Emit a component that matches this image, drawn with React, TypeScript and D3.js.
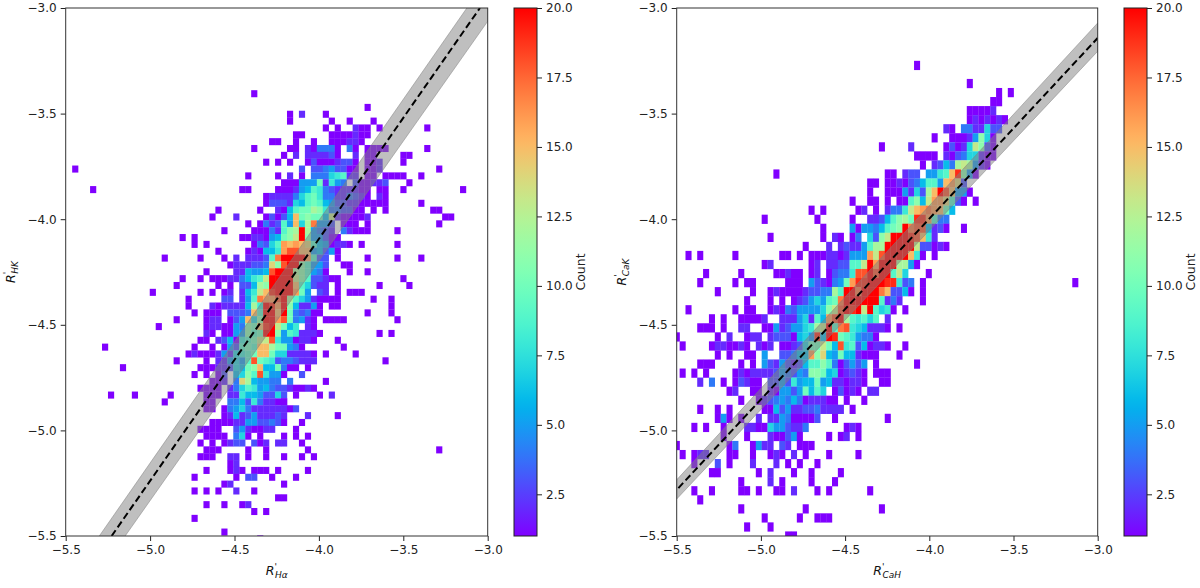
import React, { useEffect, useRef } from 'react';
import * as d3 from 'd3';

// 2d histogram rows, "row col:counts col:counts", counts are base 36 (k = 20), row 0 is at the top
const hkRows = [
  "12 31:1", "14 50:1", "15 37:1 39:2 43:1", "16 37:1 44:1 47:1 51:1", "17 43:1 45:1 48:211 52:1 60:1",
  "18 38:11 44:1111211", "19 34:11 38:1 41:1 44:111 47:221", "20 31:1 37:11 40:21 42:444 45:1 47:41 50:1111 60:1",
  "21 36:1 38:2 40:222 43:231 48:2 50:11 56:11", "22 33:1 35:1 37:1 40:13111 45:233 48:1 50:112 56:1",
  "23 1:1 39:3 41:33453311 50:112 62:1", "24 30:1 35:1 37:2 39:1 41:44478922 50:11 53:1111 59:1",
  "25 36:111 39:555a2854 48:3 49:1 50:1223 57:1", "26 4:1 29:11 35:111 38:2569843 45:2222 49:1 50:1 52:11 56:1 66:1",
  "27 33:12 35:2 36:22 38:479a8442 46:2 47:432 50:1 52:21", "28 33:1 34:3332 38:769a9653 46:3 47:22 49:1 50:1111 59:1",
  "29 25:1 32:1 35:21 37:69aacb8443 47:3 48:11 51:1 53:1 61:11", "30 24:1 28:2 33:1 34:3136 38:fabaa6d21 47:1 48:112 63:11",
  "31 30:1 32:1 33:4239 37:5f7ch553 46:1 47:11 50:1 62:1", "32 26:1 31:111 34:4 35:29bckc5432 46:42 48:111 55:1",
  "33 19:1 21:1 29:11 31:22 33:156abdkb553 44:11", "34 21:1 23:1 31:143 34:79gfgfe9651 45:221 49:1 55:1",
  "35 25:1 30:1 31:216 34:68giiff5635 45:1", "36 16:1 22:1 26:1 28:2 30:2223 34:9hkkkkg933 45:1 50:1 55:1 59:1",
  "37 27:1222 31:33 33:4ebikkb95 42:53 46:11", "38 23:1 28:22655 33:6ikkkcb95 42:41 47:1 50:1",
  "39 19:1 22:1 24:11 26:122 29:468 32:9dkkkkdb9 41:332 44:11 56:1", "40 18:1 25:1 27:1 29:336 32:cbkkkkf97 41:322 45:1 52:1 57:1",
  "41 14:1 22:1 24:1 26:12 29:268 32:dfjkkkga5 42:32 45:1 47:111", "42 20:1 26:33 29:259hggikc975 41:21111 51:1 54:1",
  "43 20:1 24:21 26:222 29:26c8kjgkb6 39:22 41:51 44:11 54:1", "44 21:1 23:111 27:333 30:4f9kkfka434 41:11 50:1 54:1",
  "45 18:1 23:122 27:135f7bkkgia452 41:1 43:1111 55:1", "46 15:1 23:122 26:11 28:54bafjkda68 40:21",
  "47 23:21 26:11 28:55b9akkb59822 41:21 52:1 54:1", "48 22:11 25:2361 29:89addi8 36:55122 41:1 45:1",
  "49 6:1 21:1 24:1 26:1539 30:a9ffcaa541 46:1", "50 20:12111 25:2527 29:89affa77 37:2222 41:1 43:1 48:1",
  "51 18:1 23:1 25:2257 29:59ia98344 38:3222 53:1", "52 9:1 22:111 25:22 27:3 28:76abf66a411 40:1",
  "53 21:1 23:1 25:13 28:67b9i8551 39:3", "54 24:112 28:4ec65544 37:4 43:1", "55 22:1111 27:2479 31:856433 37:2112 41:1",
  "56 7:1 11:1 17:1 23:111 27:22866 32:53373 38:1 42:1 44:2", "57 16:1 23:11 27:44638 32:42211 36:1",
  "58 23:11 26:145742 32:2 33:2222 37:13", "59 26:126 29:2352 33:2232 40:2 45:1", "60 24:1111 28:22553 33:3431 39:1",
  "61 22:1111 28:352112 34:2 38:1", "62 23:111 26:1 28:471 32:1 36:1 38:1 40:1", "63 22:1 24:1 26:1233 31:312 35:22 39:1",
  "64 23:111 30:1 33:1 40:1 62:1", "65 22:111 27:22 30:1 33:1 36:1 39:1 41:1", "66 27:12", "67 23:1 27:121 31:111 35:1 40:1",
  "68 21:1 28:1 30:33 34:1 38:1", "69 26:12 36:1", "70 21:1 23:1 25:1 28:2 31:1", "71 35:11", "72 23:1 26:1 29:12", "73 31:1 33:1",
  "74 21:1", "76 26:1", "77 32:1",
];

const cakRows = [
  "6 41:1", "8 50:1", "9 55:1 57:1", "10 54:11", "11 50:11112", "12 50:1212121", "13 46:21 49:44 51:22 53:733",
  "14 44:1 47:11 49:12 51:5b71", "15 35:1 40:2 46:131 49:27db31", "16 41:1111 46:213477 52:211",
  "17 42:1 44:2364cdc521", "18 17:1 36:11 39:233 43:5589fjb51", "19 33:11 36:11 38:21346 43:995fge3",
  "20 33:1 36:11 38:1527 42:3cfkif551", "21 30:1 33:11 36:1 38:11 40:9b6dgge931 51:1", "22 23:1 25:1 31:12 34:1 36:2448dfghgfa6",
  "23 15:1 24:1 30:1 33:22369bcajjg944", "24 25:1 30:51 32:5546 36:9abkhii6 44:231 49:1", "25 16:1 25:1 27:21 30:14 33:73bdkkkjif82",
  "26 22:1 26:2 28:2322 32:59cckkkkkd33 44:121", "27 2:1 4:1 10:1 18:11 21:1 23:111 26:221255 32:5gdikkkkf81 44:1",
  "28 15:12 23:12 26:2233 30:99dkgkkkcc51", "29 5:1 11:1 17:112 20:11 23:12 26:134 29:48iikikk9d7 43:1",
  "30 4:1 10:1 12:11 19:111 23:5321 27:45agjjkkkjj8 39:34 42:1 68:1", "31 7:1 13:1 16:121111 22:23344 27:c9kkhkkkhf3 38:361 42:1",
  "32 12:1 16:1 18:1 20:1235 24:759ahkkkk 33:kk9 36:2 37:42 42:1", "33 2:1 10:1 12:11 16:12143 21:555 24:57bdikjkd 33:k978 37:1 39:1",
  "34 6:1 8:1 11:1111 15:2 18:222 21:572 24:96gikc989 33:79 36:2", "35 4:111 8:1 11:22 15:11 17:52355 22:78cdk9hi8762 34:221 38:1",
  "36 0:1 7:1 9:2 12:122 16:2333 20:1675 24:j6kja985 32:441", "37 1:1 6:122112 12:1 14:212 18:11 20:237 23:aada6i893 32:612 35:21 39:1",
  "38 7:1 9:1 12:11 15:5 18:33466 23:gbe65a66 31:2111 38:1", "39 4:111 11:1 13:1 15:532 18:532369 24:9b941353 32:5 34:1 41:1",
  "40 1:1 3:1 5:1 10:121 13:2222 17:35435 22:4bba6712 30:321 34:111", "41 4:2 6:4 8:1 10:132 13:11 16:33538 21:566a562 28:21 30:221 35:11",
  "42 9:12 13:11 16:215535 22:a697 27:1312 31:1 33:22", "43 11:1 14:1234 18:54 20:641222 26:11 29:1 32:1",
  "44 4:1 7:1 9:1 15:116 18:35 20:223342 26:222 30:1", "45 7:15 9:1 11:1 14:2 16:22 18:54 20:1111 24:3 27:1 36:1",
  "46 3:1 5:1 8:1 12:22 14:11 16:75532 21:24 29:121", "47 8:1 12:1 16:211 19:351 26:1 28:12 31:1",
  "48 0:1 9:14 13:15 15:22 18:32 21:111", "49 1:1 3:122 9:11 13:1 16:121 20:2 22:1 26:1 31:1", "50 3:1 7:3 9:1 13:2 17:2 19:1 21:1 24:1",
  "51 6:11 14:1 16:2 20:1 23:1 28:1", "52 11:1 16:2 18:1 23:1 27:1", "53 3:1 6:1 11:11 14:1 17:11 20:2 24:1 26:1 33:1", "54 4:1",
  "55 11:1 22:1 35:1", "56 15:1 21:1 24:111", "57 12:1 16:1", "58 19:11",
];

const axisTicks = [-5.5, -5, -4.5, -4, -3.5, -3];
const colorbarTicks = [2.5, 5, 7.5, 10, 12.5, 15, 17.5, 20];

// fit line and its band
const hkLineX = [-5.228, -3.046];
const hkLineY = [-5.5, -3];
const hkBandX = [-5.301, -3];
const hkBandLow = [-5.674, -3.063];
const hkBandHigh = [-5.5, -2.858];

const cakLineX = [-5.49, -3];
const cakLineY = [-5.273, -3.142];
const cakBandX = [-5.5, -3];
const cakBandLow = [-5.325, -3.205];
const cakBandHigh = [-5.234, -3.071];

const FONT = '"DejaVu Sans", sans-serif';

// matplotlib's "rainbow"
const rainbow = (t: number) => {
    const r = Math.min(1, Math.abs(2 * t - 0.5));
    const g = Math.sin(Math.PI * t);
    const b = Math.cos((Math.PI * t) / 2);
    return d3.rgb(r * 255, g * 255, b * 255).formatHex();
};
const color = d3.scaleSequential(rainbow).domain([1, 20]);

const parseBins = (rows: string[]) =>
    rows.flatMap(line => {
        const [row, ...runs] = line.split(" ");
        return runs.flatMap(run => {
            const [col, counts] = run.split(":");
            return [...counts].map((ch, i) => ({
                row: +row,
                col: +col + i,
                count: parseInt(ch, 36),
            }));
        });
    });

interface PanelConfig {
    id: string;
    left: number;
    right: number;
    barLeft: number;
    rows: string[];
    binX0: number;
    binY0: number;
    dx: number;
    dy: number;
    lineX: number[];
    lineY: number[];
    bandX: number[];
    bandLow: number[];
    bandHigh: number[];
    xSub: string;
    ySub: string;
    yLabelX: number;
}

const TOP = 8;
const BOTTOM = 536;

const label = (
    g: d3.Selection<SVGGElement, unknown, null, undefined>,
    sub: string,
    transform: string
) => {
    const t = g.append("text")
        .attr("transform", transform)
        .attr("text-anchor", "middle")
        .attr("font-family", FONT)
        .attr("font-size", 12.5)
        .attr("font-style", "italic")
        .attr("fill", "#111");
    t.append("tspan").text("R");
    t.append("tspan").attr("dy", -5).attr("dx", 0).attr("font-size", 9).attr("font-style", "normal").text("'");
    t.append("tspan").attr("dy", 8).attr("dx", -2).attr("font-size", 9).text(sub);
};

const drawPanel = (svg: d3.Selection<SVGSVGElement, unknown, null, undefined>, cfg: PanelConfig) => {
    const g = svg.append("g");
    const x = d3.scaleLinear().domain([-5.5, -3]).range([cfg.left, cfg.right]);
    const y = d3.scaleLinear().domain([-5.5, -3]).range([BOTTOM, TOP]);

    const clipId = `clip-${cfg.id}`;
    svg.append("clipPath").attr("id", clipId)
        .append("rect")
        .attr("x", cfg.left).attr("y", TOP)
        .attr("width", cfg.right - cfg.left).attr("height", BOTTOM - TOP);

    const plot = g.append("g").attr("clip-path", `url(#${clipId})`);

    plot.selectAll("rect.bin")
        .data(parseBins(cfg.rows))
        .enter()
        .append("rect")
        .attr("class", "bin")
        .attr("x", d => x(cfg.binX0 + d.col * cfg.dx))
        .attr("y", d => y(cfg.binY0 - d.row * cfg.dy))
        .attr("width", x(cfg.dx) - x(0) + 0.2)
        .attr("height", y(0) - y(cfg.dy) + 0.2)
        .attr("fill", d => color(d.count));

    const band = d3.area<number>()
        .x((_, i) => x(cfg.bandX[i]))
        .y0((_, i) => y(cfg.bandLow[i]))
        .y1((_, i) => y(cfg.bandHigh[i]));
    plot.append("path")
        .attr("d", band(cfg.bandX))
        .attr("fill", "#808080")
        .attr("fill-opacity", 0.5)
        .attr("stroke", "#808080")
        .attr("stroke-opacity", 0.5)
        .attr("stroke-width", 1);

    const fit = d3.line<number>()
        .x(d => x(d))
        .y((_, i) => y(cfg.lineY[i]));
    plot.append("path")
        .attr("d", fit(cfg.lineX))
        .attr("fill", "none")
        .attr("stroke", "#000")
        .attr("stroke-width", 2)
        .attr("stroke-dasharray", "7,3.5");

    // Axes
    const xAxis = g.append("g")
        .attr("transform", `translate(0,${BOTTOM})`)
        .call(d3.axisBottom(x).tickValues(axisTicks).tickFormat(d3.format(".1f") as any).tickSize(5).tickPadding(4).tickSizeOuter(0));
    const yAxis = g.append("g")
        .attr("transform", `translate(${cfg.left},0)`)
        .call(d3.axisLeft(y).tickValues(axisTicks).tickFormat(d3.format(".1f") as any).tickSize(5).tickPadding(4).tickSizeOuter(0));
    [xAxis, yAxis].forEach(a => {
        a.attr("font-family", FONT).attr("font-size", 12);
        a.selectAll("text").attr("fill", "#222");
        a.selectAll("line").attr("stroke", "#222");
        a.select(".domain").remove();
    });

    g.append("rect")
        .attr("x", cfg.left).attr("y", TOP)
        .attr("width", cfg.right - cfg.left).attr("height", BOTTOM - TOP)
        .attr("fill", "none")
        .attr("stroke", "#333");

    label(g, cfg.xSub, `translate(${(cfg.left + cfg.right) / 2},575)`);
    label(g, cfg.ySub, `translate(${cfg.yLabelX},${(TOP + BOTTOM) / 2}) rotate(-90)`);

    // Colorbar
    const barWidth = 23;
    const c = d3.scaleLinear().domain([1, 20]).range([BOTTOM, TOP]);
    const gradId = `grad-${cfg.id}`;
    const grad = svg.append("linearGradient").attr("id", gradId)
        .attr("x1", 0).attr("x2", 0).attr("y1", 1).attr("y2", 0);
    d3.range(0, 1.001, 0.02).forEach(t => {
        grad.append("stop").attr("offset", t).attr("stop-color", rainbow(t));
    });
    g.append("rect")
        .attr("x", cfg.barLeft).attr("y", TOP)
        .attr("width", barWidth).attr("height", BOTTOM - TOP)
        .attr("fill", `url(#${gradId})`)
        .attr("stroke", "#222");
    const barAxis = g.append("g")
        .attr("transform", `translate(${cfg.barLeft + barWidth},0)`)
        .call(d3.axisRight(c).tickValues(colorbarTicks).tickFormat(d3.format(".1f") as any).tickSize(5).tickPadding(4).tickSizeOuter(0));
    barAxis.attr("font-family", FONT).attr("font-size", 12);
    barAxis.selectAll("text").attr("fill", "#222");
    barAxis.selectAll("line").attr("stroke", "#222");
    barAxis.select(".domain").remove();
    g.append("text")
        .attr("transform", `translate(${cfg.barLeft + barWidth + 48},${(TOP + BOTTOM) / 2}) rotate(-90)`)
        .attr("text-anchor", "middle")
        .attr("font-family", FONT)
        .attr("font-size", 12.5)
        .attr("fill", "#222")
        .text("Count");
};

const App: React.FC = () => {
    const ref = useRef<SVGSVGElement>(null);

    useEffect(() => {
        if (!ref.current) return;
        const svg = d3.select(ref.current);
        svg.selectAll("*").remove();

        drawPanel(svg, {
            id: "hk", left: 65.7, right: 487.7, barLeft: 514, rows: hkRows,
            binX0: -5.497, binY0: -3, dx: 0.03535, dy: 0.03243,
            lineX: hkLineX, lineY: hkLineY, bandX: hkBandX, bandLow: hkBandLow, bandHigh: hkBandHigh,
            xSub: "Hα", ySub: "HK", yLabelX: 15,
        });
        drawPanel(svg, {
            id: "cak", left: 676.7, right: 1097.7, barLeft: 1124, rows: cakRows,
            binX0: -5.5174, binY0: -2.993, dx: 0.0348, dy: 0.04285,
            lineX: cakLineX, lineY: cakLineY, bandX: cakBandX, bandLow: cakBandLow, bandHigh: cakBandHigh,
            xSub: "CaH", ySub: "CaK", yLabelX: 626,
        });
    }, []);

    return (
        <svg
            ref={ref}
            width={1200}
            height={588}
            style={{ position: "absolute", left: 0, top: 0, background: "#fff" }}
        />
    );
};

export default App;
